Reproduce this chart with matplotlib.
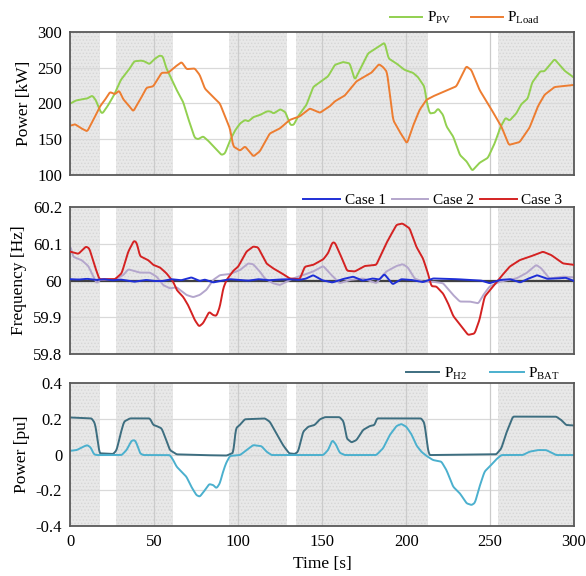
import numpy as np
import matplotlib.pyplot as plt

plt.rcParams['font.family'] = ['Liberation Serif', 'DejaVu Serif']
plt.rcParams['mathtext.fontset'] = 'custom'
plt.rcParams['mathtext.rm'] = 'Liberation Serif'
plt.rcParams['mathtext.it'] = 'Liberation Serif:italic'
plt.rcParams['hatch.linewidth'] = 0.6

# shaded time windows [s]
shade = [(0, 17.5), (27, 61), (94.5, 129), (134.5, 213), (255, 300)]

# --- PV / load power [kW]
pv_t = [0, 3, 7, 10, 13, 15, 18, 19, 22, 26, 30, 35, 38, 42, 44, 47, 50, 53, 55, 57,
        60, 63, 67, 70, 74, 76, 79, 82, 86, 90, 92, 95, 98, 101, 104, 106, 109, 113,
        117, 119, 121, 125, 128, 131, 133, 135.6, 140.6, 144.6, 150.6, 153.5, 157.5,
        162.4, 166.4, 169.4, 173.3, 177.3, 183.2, 187.2, 189.5, 194.2, 199, 204, 207,
        211, 212, 214, 217, 219, 222, 224, 228, 232, 236, 239.4, 243.7, 248.7, 252.7,
        256, 259.2, 261.6, 265.6, 268.6, 272.5, 275, 279.9, 282.4, 288.4, 294.3, 300]
pv = [200, 204, 206, 207, 211, 205, 188, 186, 196, 212, 233, 248, 259, 260, 259, 255,
      262, 267, 266, 250, 235, 220, 203, 180, 152, 150, 154, 148, 138, 128, 130, 148,
      162, 172, 177, 175, 181, 184, 189, 189, 186, 192, 188, 170, 170, 182, 198, 223,
      233, 238, 254, 258, 256, 233, 251, 270, 279, 285, 263, 256, 247, 243, 237, 223,
      205, 186, 187, 193, 184, 168, 154, 128, 119, 106, 117, 124, 144, 166, 180, 176,
      186, 199, 207, 229, 245, 245, 262, 246, 236]

load_t = [0, 2.7, 6.6, 10, 13.6, 17.6, 20.5, 23.5, 26.5, 29, 31.4, 34.4, 37.4, 41.4,
          45.3, 49.3, 54.3, 58.2, 62.2, 66.2, 69.2, 74, 77, 80, 85, 89, 95, 97, 101,
          104, 109, 112.8, 118.7, 124.7, 130.6, 136.6, 142.6, 148.6, 154.5, 157.5,
          163.4, 170.4, 179.3, 183.8, 186.2, 188.6, 192.2, 196, 200.5, 204, 208, 212,
          216, 229.9, 233.8, 235.8, 238.8, 243.7, 249.7, 256.7, 261.2, 267.6, 273.5,
          278.5, 282.4, 288.4, 300]
load = [169, 171, 165, 161, 177, 196, 205, 216, 213, 218, 206, 198, 189, 205, 222,
        224, 243, 243, 251, 258, 248, 249, 240, 221, 209, 200, 165, 140, 134, 140, 126,
        133, 158, 165, 177, 182, 193, 187, 196, 203, 211, 231, 243, 255, 251, 244, 177,
        161, 144, 168, 191, 205, 210, 224, 242, 252, 247, 219, 196, 168, 142, 146, 166,
        196, 212, 223, 226]

# --- frequency [Hz]
c1_t = [0, 5, 10, 15, 20, 25, 30, 38, 45, 50, 55, 60, 66, 72, 77, 80, 85, 89, 95,
        100, 106, 112, 118, 124, 130, 136, 140, 144.6, 150, 156, 162, 168.4, 174,
        180, 184, 187, 192, 197, 203, 210, 216, 222, 230, 238, 245, 249.7, 256,
        262, 268, 272, 278, 284, 290, 295, 300]
c1 = [60.004, 60.003, 60.005, 60.002, 60.004, 60.001, 60.003, 59.997, 60.002,
      59.999, 59.999, 60.004, 60.001, 60.009, 59.999, 60.003, 59.995, 59.999, 60.004,
      60.002, 60.000, 60.004, 60.001, 60.003, 60.004, 60.002, 60.005, 60.015, 60.001,
      59.995, 60.004, 60.011, 60.000, 60.006, 60.003, 60.018, 59.990, 60.004, 60.002,
      59.996, 60.006, 60.005, 60.004, 60.002, 60.000, 59.993, 60.002, 60.004, 59.995,
      60.004, 60.015, 60.005, 60.006, 60.008, 59.999]

c2_t = [0, 1.6, 6.6, 10.6, 13.6, 15.6, 17.6, 26.5, 31.4, 34.4, 37.4, 41.4, 47.3,
        51.3, 55.2, 59.2, 63.2, 69.1, 73.1, 77, 81, 85, 89, 95, 101, 105.8, 108.8,
        112.8, 115.8, 120.6, 124.7, 128.6, 132.6, 138.6, 144.6, 150.6, 154.5, 160.4,
        166.4, 174.3, 182.2, 188.2, 194.2, 198, 201, 205, 210, 216, 222, 228, 232,
        238, 243, 246, 249.7, 255.6, 265.6, 271.5, 277.5, 280.4, 285.4, 293.4, 300]
c2 = [60.093, 60.065, 60.056, 60.040, 60.011, 59.993, 60.002, 60.004, 60.015, 60.031,
      60.027, 60.022, 60.022, 60.011, 59.988, 59.979, 59.982, 59.961, 59.955, 59.961,
      59.975, 60.002, 60.015, 60.018, 60.029, 60.047, 60.045, 60.025, 60.006, 59.993,
      59.988, 59.997, 60.006, 60.015, 60.025, 60.040, 60.020, 59.993, 60.002, 60.006,
      59.993, 60.025, 60.040, 60.045, 60.036, 60.006, 59.997, 59.997, 59.993, 59.961,
      59.943, 59.943, 59.938, 59.961, 59.984, 59.997, 60.006, 60.020, 60.043, 60.034,
      60.006, 60.011, 60.009]

c3_t = [0, 4.7, 9.2, 11.2, 14.6, 17.2, 26.5, 30.5, 34.4, 37.8, 39.4, 41.4, 46.3, 49.3,
        53.3, 57.2, 61.2, 63.2, 67.1, 70, 74, 76.6, 79, 82.6, 85, 87, 89, 91, 93, 97,
        99.9, 104.8, 108.8, 111.7, 114.7, 116.7, 120.6, 126.6, 130.6, 136.6, 139.6,
        144.6, 150.6, 153.5, 156, 157.5, 160.4, 164.8, 169.4, 175.3, 182.2, 188.2,
        194.2, 197.7, 202, 206, 210, 213, 215, 218, 222, 225, 228, 233.8, 236.9,
        240.8, 243.7, 246.7, 251.7, 255.6, 261.6, 267.6, 273.5, 281.5, 286.4, 293.4,
        300]
c3 = [60.079, 60.073, 60.093, 60.088, 60.038, 60.004, 60.004, 60.020, 60.079, 60.109,
      60.104, 60.067, 60.056, 60.043, 60.036, 60.020, 59.997, 59.975, 59.956, 59.934,
      59.893, 59.875, 59.884, 59.915, 59.906, 59.904, 59.929, 59.979, 60.002, 60.027,
      60.038, 60.079, 60.093, 60.091, 60.065, 60.047, 60.034, 60.018, 60.006, 60.004,
      60.038, 60.043, 60.058, 60.075, 60.104, 60.104, 60.075, 60.027, 60.025, 60.040,
      60.043, 60.102, 60.152, 60.156, 60.143, 60.093, 60.061, 60.020, 59.985, 59.984,
      59.965, 59.938, 59.904, 59.870, 59.852, 59.856, 59.893, 59.956, 59.984, 60.006,
      60.038, 60.056, 60.065, 60.079, 60.070, 60.047, 60.043]

# --- storage power [pu]
h2_t = [0, 12.6, 14.6, 16.2, 17.2, 25.5, 27.5, 29.9, 31.9, 35.4, 47.3, 49.3, 51.3,
        54.3, 56.3, 59.2, 63.2, 77, 93, 97, 98.5, 100.9, 103.8, 115.8, 118.7, 122.7,
        126.6, 130.2, 133.6, 135.6, 138.6, 141.6, 145.5, 148.6, 151.6, 160.4, 162.8,
        164.5, 167.4, 170.4, 174.3, 178.3, 181.2, 182.6, 209, 211, 212.4, 213.6, 214,
        253.7, 256.7, 259.6, 263.6, 289.4, 292.4, 295.3, 300]
h2 = [0.208, 0.203, 0.175, 0.081, 0.007, 0.003, 0.025, 0.119, 0.185, 0.203, 0.203,
      0.166, 0.160, 0.147, 0.100, 0.025, 0.001, -0.003, -0.006, 0.010, 0.147, 0.166,
      0.198, 0.203, 0.185, 0.119, 0.053, 0.007, 0.003, 0.016, 0.128, 0.156, 0.166,
      0.198, 0.210, 0.210, 0.185, 0.091, 0.068, 0.081, 0.138, 0.160, 0.166, 0.203,
      0.203, 0.175, 0.062, 0.001, -0.003, 0.001, 0.034, 0.119, 0.213, 0.213, 0.194,
      0.166, 0.163]

bat_t = [0, 3.7, 7.6, 10, 12, 14, 15.6, 30.5, 33.4, 36.4, 38.4, 39.8, 41.4, 43.3, 59.2,
         61.2, 63.2, 66.1, 69.1, 72, 75, 77, 79.4, 82.6, 85, 87, 89, 90.6, 92.6, 95,
         101, 105, 108.8, 113.8, 116.8, 119.8, 150.6, 153.5, 156, 158, 160.4, 163.4,
         182.2, 186.2, 190.2, 194.2, 197.1, 200.1, 203.1, 206, 209, 212, 216, 221, 224,
         228, 232, 236, 239, 241, 243.7, 246.7, 249.7, 253.7, 256.7, 269.5, 273.5,
         278.5, 283.4, 287.4, 289.4, 300]
bat = [0.021, 0.025, 0.044, 0.053, 0.040, 0.001, -0.003, -0.003, 0.025, 0.078, 0.081,
       0.053, 0.007, -0.003, -0.003, -0.031, -0.068, -0.096, -0.125, -0.181, -0.228,
       -0.237, -0.209, -0.166, -0.171, -0.190, -0.162, -0.106, -0.050, -0.008, -0.003,
       0.025, 0.053, 0.047, 0.016, -0.003, -0.003, 0.025, 0.081, 0.059, 0.010, -0.003,
       -0.003, 0.034, 0.109, 0.160, 0.172, 0.156, 0.115, 0.053, 0.016, -0.007, -0.031,
       -0.040, -0.087, -0.181, -0.218, -0.274, -0.284, -0.271, -0.181, -0.096, -0.068,
       -0.027, -0.003, -0.003, 0.016, 0.025, 0.025, 0.007, -0.003, -0.003]


def smooth(t, y):
    # dense linear resample + short moving average to round the corners
    tt = np.linspace(0, 300, 1501)
    yy = np.interp(tt, t, y)
    k = 7
    pad = np.pad(yy, k // 2, mode='edge')
    return tt, np.convolve(pad, np.ones(k) / k, mode='valid')


def style_axes(ax, ylim, yticks, ylabel):
    for a, b in shade:
        ax.axvspan(a, b, facecolor='#e8e8e8', edgecolor='#d6d6d6', hatch='.....',
                   linewidth=0, zorder=0)
    for yt in yticks[1:-1]:
        ax.axhline(yt, color='#d9d9d9', lw=0.9, zorder=0.5)
    for xt in [50, 100, 150, 200, 250]:
        ax.axvline(xt, color='#cbcbcb', lw=0.9, zorder=0.5)
    ax.set_xlim(0, 300)
    ax.set_ylim(*ylim)
    ax.set_yticks(yticks)
    ax.set_xticks([0, 50, 100, 150, 200, 250, 300])
    ax.tick_params(length=0, labelsize=12, pad=6)
    ax.set_ylabel(ylabel, fontsize=12.5, labelpad=4)
    for s in ax.spines.values():
        s.set_color('#595959')
        s.set_linewidth(1.3)


fig = plt.figure(figsize=(5.86, 5.76), dpi=100)
ax1 = fig.add_axes([0.1203, 0.6962, 0.8592, 0.2483])
ax2 = fig.add_axes([0.1203, 0.3854, 0.8592, 0.2547])
ax3 = fig.add_axes([0.1203, 0.0873, 0.8592, 0.2472])

# power
style_axes(ax1, (100, 300), [100, 150, 200, 250, 300], 'Power [kW]')
ax1.plot(*smooth(pv_t, pv), color='#92D050', lw=1.4, label=r'P$_{\mathrm{PV}}$')
ax1.plot(*smooth(load_t, load), color='#ED7D31', lw=1.4, label=r'P$_{\mathrm{Load}}$')
ax1.set_xticklabels([])

# frequency
style_axes(ax2, (59.8, 60.2), [59.8, 59.9, 60.0, 60.1, 60.2], 'Frequency [Hz]')
ax2.set_yticklabels(['59.8', '59.9', '60', '60.1', '60.2'])
ax2.axhline(60.0, color='#404040', lw=1.6, zorder=1)
ax2.plot(*smooth(c1_t, c1), color='#1F2FD6', lw=1.4, zorder=4, label='Case 1')
ax2.plot(*smooth(c2_t, c2), color='#B4A6CC', lw=1.4, zorder=2, label='Case 2')
ax2.plot(*smooth(c3_t, c3), color='#D42222', lw=1.4, zorder=3, label='Case 3')
ax2.set_xticklabels([])

# storage
style_axes(ax3, (-0.4, 0.4), [-0.4, -0.2, 0.0, 0.2, 0.4], 'Power [pu]')
ax3.set_yticklabels(['-0.4', '-0.2', '0', '0.2', '0.4'])
ax3.plot(*smooth(h2_t, h2), color='#3D6E80', lw=1.4, label=r'P$_{\mathrm{H2}}$')
ax3.plot(*smooth(bat_t, bat), color='#4BB0CE', lw=1.4, label=r'P$_{\mathrm{BAT}}$')
ax3.set_xticklabels(['0', '50', '100', '150', '200', '250', '300'])
ax3.set_xlabel('Time [s]', fontsize=12.5, labelpad=4)

# legends sit above each panel, right-aligned
leg_pos = [(ax1, 0.935, 1.03, 1.3, 2.1), (ax2, 0.98, 0.99, 0.4, 2.4),
           (ax3, 0.975, 1.0, 1.5, 2.2)]
for ax, lx, ly, cs, hl in leg_pos:
    ax.legend(loc='lower right', bbox_to_anchor=(lx, ly), ncol=3, frameon=False,
              fontsize=11, handlelength=hl, columnspacing=cs, handletextpad=0.3,
              borderpad=0.1, borderaxespad=0)

fig.savefig('out.png', dpi=100)
